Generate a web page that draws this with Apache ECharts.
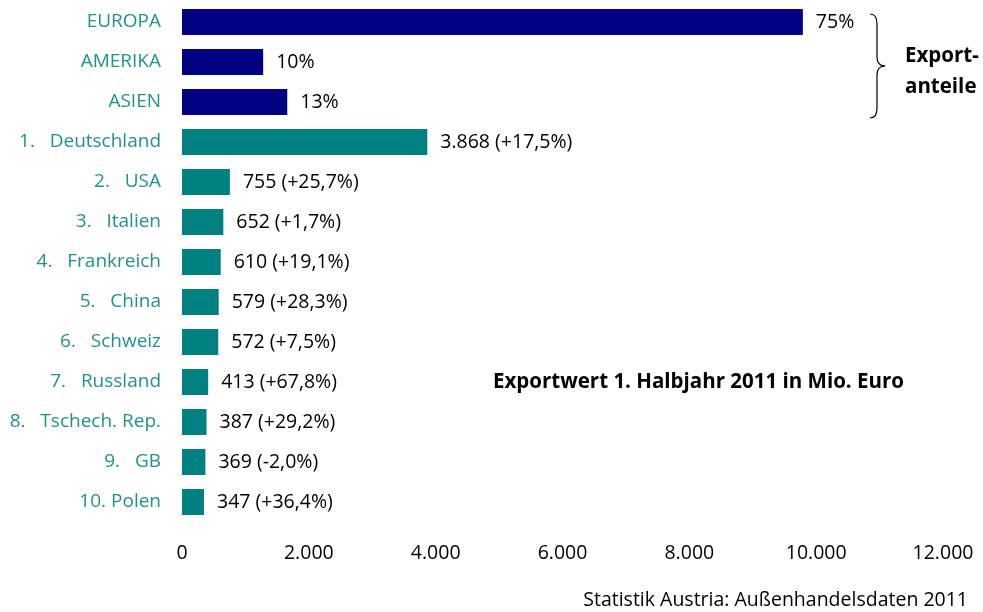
<!DOCTYPE html>
<html>
<head>
<meta charset="utf-8">
<script src="https://cdn.jsdelivr.net/npm/echarts@6/dist/echarts.min.js"></script>
<style>
  html, body { margin: 0; padding: 0; background: #fff; }
  #chart { width: 983px; height: 612px; }
</style>
</head>
<body>
<div id="chart"></div>
<script>
var categories = ['EUROPA', 'AMERIKA', 'ASIEN',
  '1.   Deutschland', '2.   USA', '3.   Italien', '4.   Frankreich', '5.   China',
  '6.   Schweiz', '7.   Russland', '8.   Tschech. Rep.', '9.   GB', '10. Polen'];
// continent bars are drawn as share lengths, countries in Mio. Euro
var values = [9790, 1280, 1660, 3868, 755, 652, 610, 579, 572, 413, 387, 369, 347];
var valueLabels = ['75%', '10%', '13%',
  '3.868 (+17,5%)', '755 (+25,7%)', '652 (+1,7%)', '610 (+19,1%)', '579 (+28,3%)',
  '572 (+7,5%)', '413 (+67,8%)', '387 (+29,2%)', '369 (-2,0%)', '347 (+36,4%)'];
var xTicks = [0, 2000, 4000, 6000, 8000, 10000, 12000];

var FONT = 'Open Sans';
var chart = echarts.init(document.getElementById('chart'));

// curly brace next to the continent bars
var braceStyle = { fill: 'none', stroke: '#000', lineWidth: 1.2 };
function curve(x1, y1, cx, cy, x2, y2) {
  return { type: 'bezierCurve', shape: { x1: x1, y1: y1, x2: x2, y2: y2, cpx1: cx, cpy1: cy }, style: braceStyle };
}
function seg(x1, y1, x2, y2) {
  return { type: 'line', shape: { x1: x1, y1: y1, x2: x2, y2: y2 }, style: braceStyle };
}

chart.setOption({
  animation: false,
  textStyle: { fontFamily: FONT },
  grid: { left: 182, right: 40, top: 2, bottom: 90, containLabel: false },
  xAxis: {
    type: 'value',
    min: 0,
    max: 12000,
    interval: 2000,
    axisLine: { show: false },
    axisTick: { show: false },
    splitLine: { show: false },
    axisLabel: {
      margin: 21,
      fontSize: 19.5,
      color: '#000',
      fontFamily: FONT,
      formatter: function (v) {
        return xTicks.indexOf(v) < 0 ? '' : String(v).replace(/\B(?=(\d{3})+(?!\d))/g, '.');
      }
    }
  },
  yAxis: {
    type: 'category',
    data: categories,
    inverse: true,
    axisLine: { show: false },
    axisTick: { show: false },
    axisLabel: { margin: 21, fontSize: 19, color: '#22918c', fontFamily: FONT }
  },
  series: [{
    type: 'bar',
    barWidth: 26,
    data: values,
    itemStyle: {
      color: function (p) { return p.dataIndex < 3 ? '#000080' : '#008080'; }
    },
    label: {
      show: true,
      position: 'right',
      distance: 13,
      fontSize: 19.5,
      color: '#000',
      fontFamily: FONT,
      formatter: function (p) { return valueLabels[p.dataIndex]; }
    }
  }],
  graphic: [
    curve(870, 14, 877, 14, 877, 24),
    seg(877, 24, 877, 57),
    curve(877, 57, 877, 66, 885, 66),
    curve(885, 66, 877, 66, 877, 75),
    seg(877, 75, 877, 108),
    curve(877, 108, 877, 118, 870, 118),
    {
      type: 'text', left: 905, top: 41,
      style: { text: 'Export-\nanteile', font: 'bold 20.5px ' + FONT, fill: '#000', lineHeight: 31 }
    },
    {
      type: 'text', left: 493, top: 372,
      style: { text: 'Exportwert 1. Halbjahr 2011 in Mio. Euro', font: 'bold 20.5px ' + FONT, fill: '#000' }
    },
    {
      type: 'text', right: 15, top: 590,
      style: { text: 'Statistik Austria: Außenhandelsdaten 2011', font: '19.5px ' + FONT, fill: '#000' }
    }
  ]
});
</script>
</body>
</html>
